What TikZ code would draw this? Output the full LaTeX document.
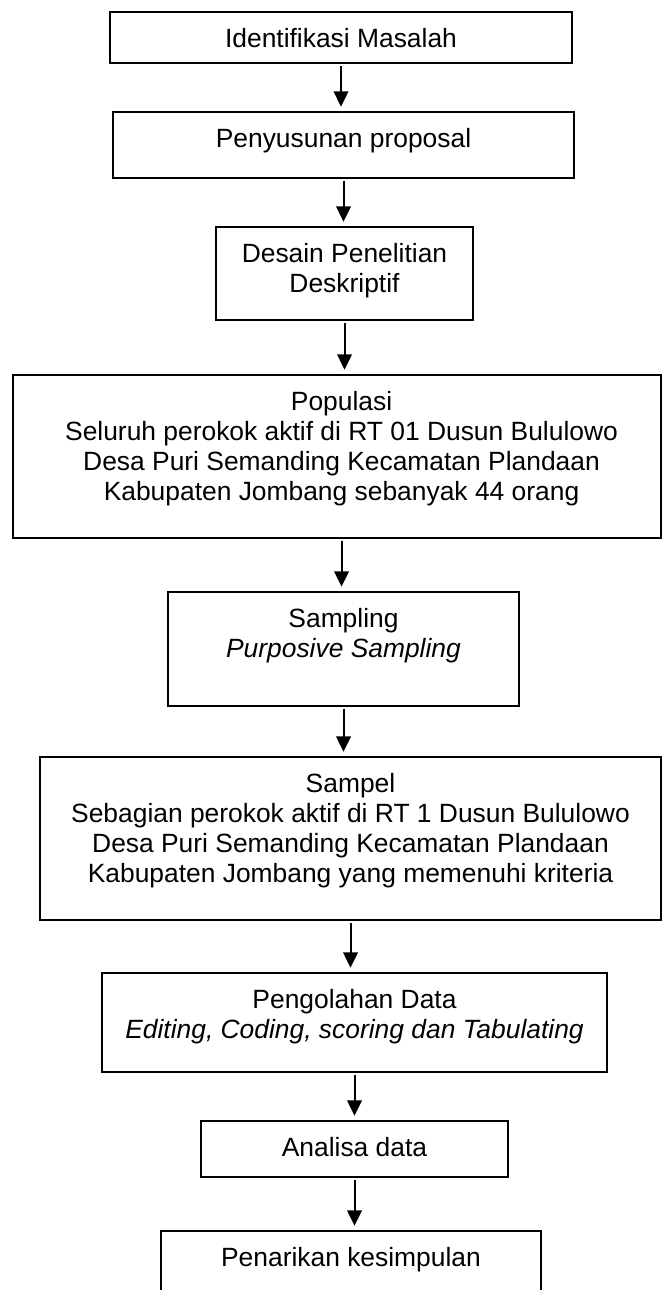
\documentclass[tikz,border=0pt]{standalone}
\usepackage{fontspec}
\setmainfont{Liberation Sans}
\usepackage{tikz}
\usetikzlibrary{arrows.meta}
\usetikzlibrary{positioning}

\begin{document}
\begin{tikzpicture}[
      >={Triangle[length=11.5pt, width=11pt]},
      x=0.75pt, y=-0.75pt,
      box/.style={draw, line width=1.1pt, inner sep=0pt},
      txt/.style={align=center, inner sep=0pt, font=\fontsize{19.8}{22.5}\selectfont},
      freccia/.style={->, line width=1.5pt, shorten <=1.5pt, shorten >=3.5pt}
    ]
    \useasboundingbox (0,0) rectangle (662,1290);

    % Riquadri
    \node[box, minimum width=346.5pt, minimum height=38.25pt] (ident) at (341,37.5) {};
    \node[box, minimum width=345.75pt, minimum height=49.5pt] (prop) at (343.5,145) {};
    \node[box, minimum width=192.75pt, minimum height=69.75pt] (desain) at (344.5,273.5) {};
    \node[box, minimum width=486pt, minimum height=122.25pt] (pop) at (337,456.5) {};
    \node[box, minimum width=263.25pt, minimum height=85.5pt] (smpl) at (343.5,649) {};
    \node[box, minimum width=465.75pt, minimum height=122.25pt] (sampel) at (350.5,838.5) {};
    \node[box, minimum width=378.75pt, minimum height=74.25pt] (olah) at (354.5,1022.5) {};
    \node[box, minimum width=230.25pt, minimum height=42pt] (anls) at (354.5,1149) {};
    \node[box, minimum width=285pt, minimum height=59.25pt] (kesim) at (351,1270.5) {};

    % Testi
    \node[txt, below=12.8pt of ident.north] (ident-t) {Identifikasi Masalah};
    \node[txt, below=12.8pt of prop.north] (prop-t) {Penyusunan proposal};
    \node[txt, below=12.8pt of desain.north] (desain-t) {Desain Penelitian\\Deskriptif};
    \node[txt, below=12.8pt of pop.north, xshift=3.4pt] (pop-t) {Populasi\\Seluruh perokok aktif di RT 01 Dusun Bululowo\\Desa Puri Semanding Kecamatan Plandaan\\Kabupaten Jombang sebanyak 44 orang};
    \node[txt, below=12.8pt of smpl.north] (smpl-t) {Sampling\\\textit{Purposive Sampling}};
    \node[txt, below=12.8pt of sampel.north] (sampel-t) {Sampel\\Sebagian perokok aktif di RT 1 Dusun Bululowo\\Desa Puri Semanding Kecamatan Plandaan\\Kabupaten Jombang yang memenuhi kriteria};
    \node[txt, below=12.8pt of olah.north] (olah-t) {Pengolahan Data\\\textit{Editing, Coding, scoring dan Tabulating}};
    \node[txt, below=12.8pt of anls.north] (anls-t) {Analisa data};
    \node[txt, below=12.8pt of kesim.north] (kesim-t) {Penarikan kesimpulan};

    % Frecce
    \draw[freccia] (ident) -- (ident |- prop.north);
    \draw[freccia] (prop) -- (prop |- desain.north);
    \draw[freccia] (desain) -- (desain |- pop.north);
    \draw[freccia] (pop-t |- pop.south) -- (pop-t |- smpl.north);
    \draw[freccia] (smpl) -- (smpl |- sampel.north);
    \draw[freccia] (sampel) -- (sampel |- olah.north);
    \draw[freccia] (olah) -- (olah |- anls.north);
    \draw[freccia] (anls) -- (anls |- kesim.north);
  \end{tikzpicture}
\end{document}
